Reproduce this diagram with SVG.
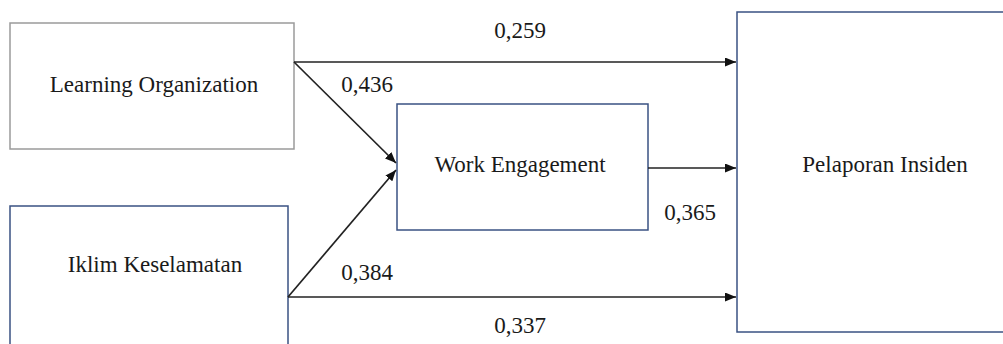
<svg xmlns="http://www.w3.org/2000/svg" width="1003" height="344" viewBox="0 0 1003 344">
<style>
.box{fill:#fff;stroke:#3a5283;stroke-width:1.5}
.grey{stroke:#9a9a9a}
.t{font-family:"Liberation Serif","Times New Roman",serif;font-size:23px;fill:#1a1a1a;text-anchor:middle}
.c{stroke:#222;stroke-width:1.7;fill:none;marker-end:url(#ah)}
</style>
<defs>
<marker id="ah" markerWidth="11" markerHeight="9" refX="11" refY="4.5" orient="auto" markerUnits="userSpaceOnUse">
<path d="M0,0 L11,4.5 L0,9 Z" fill="#111"/>
</marker>
</defs>
<rect width="1003" height="344" fill="#fff"/>
<g id="learning-organization">
<rect class="box grey" x="10" y="23" width="284" height="126"/>
<text class="t" x="154" y="92">Learning Organization</text>
</g>
<g id="iklim-keselamatan">
<rect class="box" x="10" y="206" width="278" height="150"/>
<text class="t" x="155" y="272">Iklim Keselamatan</text>
</g>
<g id="work-engagement">
<rect class="box" x="397" y="104" width="251" height="126"/>
<text class="t" x="520" y="172">Work Engagement</text>
</g>
<g id="pelaporan-insiden">
<rect class="box" x="737" y="12" width="290" height="320"/>
<text class="t" x="885" y="172">Pelaporan Insiden</text>
</g>
<g id="connectors">
<line class="c" x1="294" y1="62" x2="736" y2="62"/>
<line class="c" x1="294" y1="62" x2="396" y2="163"/>
<line class="c" x1="288" y1="297" x2="396" y2="170"/>
<line class="c" x1="648" y1="168" x2="736" y2="168"/>
<line class="c" x1="288" y1="297" x2="736" y2="297"/>
<text class="t" x="520" y="38">0,259</text>
<text class="t" x="367" y="92">0,436</text>
<text class="t" x="690" y="220">0,365</text>
<text class="t" x="367" y="280">0,384</text>
<text class="t" x="520" y="333">0,337</text>
</g>
</svg>
